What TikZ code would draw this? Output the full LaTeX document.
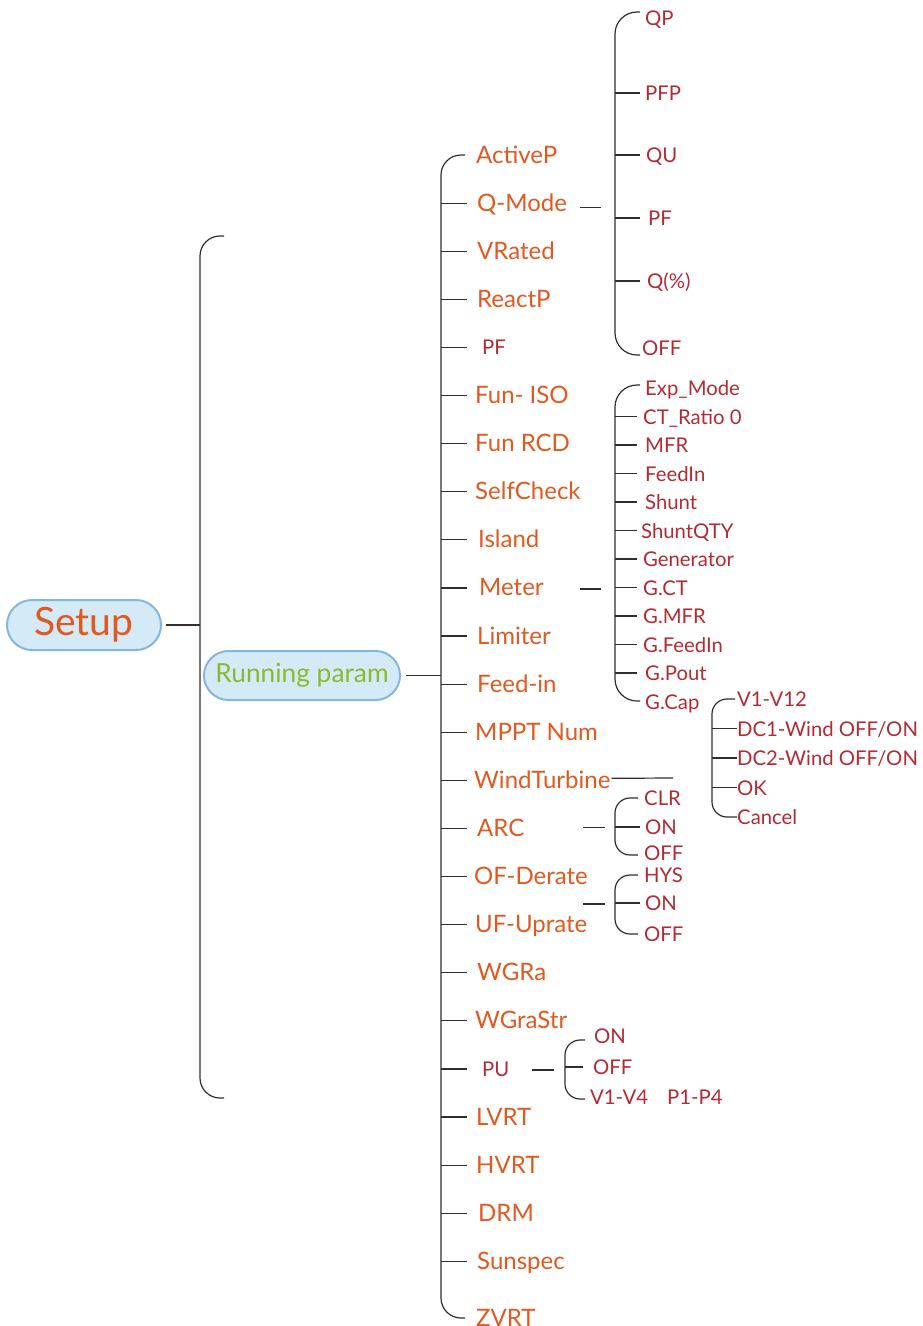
\documentclass[tikz,border=0pt]{standalone}
\usepackage{fontspec}
\setmainfont{Lato}
\definecolor{orng}{HTML}{E2581F}
\definecolor{rd}{HTML}{B32A33}
\definecolor{grn}{HTML}{8BB92D}
\definecolor{boxfill}{HTML}{D4EAF7}
\definecolor{boxline}{HTML}{84B7DF}
\definecolor{ln}{HTML}{332C2C}
\begin{document}
\begin{tikzpicture}[x=1pt,y=-1pt,
  conn/.style={draw=ln, line width=1.2pt},
  mainitem/.style={anchor=west, inner sep=0pt, text height=16pt, text depth=0pt, text=orng, font=\fontsize{24}{24}\selectfont},
  subitem/.style={anchor=west, inner sep=0pt, text height=15pt, text depth=0pt, text=rd, font=\fontsize{20.3}{20.3}\selectfont},
  pill/.style={draw=boxline, fill=boxfill, line width=2pt, inner sep=0pt}
]
\useasboundingbox (0,0) rectangle (923,1326);

% root nodes
\node[pill, minimum width=154pt, minimum height=50pt, rounded corners=25pt,
      text=orng, font=\fontsize{39}{39}\selectfont] (setup) at (84,625) {Setup};
\node[pill, minimum width=196pt, minimum height=49pt, rounded corners=24.5pt,
      text=grn, font=\fontsize{26.3}{26.3}\selectfont] (run) at (302,675.5) {Running param};

\coordinate (sb) at (200,0);
\coordinate (spine) at (441,0);

\draw[conn] ([xshift=4pt]setup.east) -- (setup.east -| sb);
\draw[conn, rounded corners=20pt] (224,236) -- (200,236) -- (200,1098) -- (224,1098);
\draw[conn] ([xshift=5pt]run.east) -- (run.east -| spine);

% main items
\foreach \i/\t/\xx/\st in {0/ActiveP/476/mainitem, 1/Q-Mode/477/mainitem, 2/VRated/477/mainitem,
  3/ReactP/477/mainitem, 4/PF/482/subitem, 5/{Fun- ISO}/475/mainitem, 6/{Fun RCD}/475/mainitem,
  7/SelfCheck/475/mainitem, 8/Island/478/mainitem, 9/Meter/479/mainitem, 10/Limiter/477/mainitem,
  11/Feed-in/477/mainitem, 12/{MPPT Num}/475/mainitem, 13/WindTurbine/474/mainitem,
  14/ARC/477/mainitem, 15/OF-Derate/474/mainitem, 16/UF-Uprate/475/mainitem,
  17/WGRa/477/mainitem, 18/WGraStr/475/mainitem, 19/PU/482/subitem, 20/LVRT/476/mainitem,
  21/HVRT/476/mainitem, 22/DRM/478/mainitem, 23/Sunspec/477/mainitem}
  \node[\st] (m\i) at (\xx,155+48.1*\i) {\t};
\node[mainitem] (m24) at (476,1318) {ZVRT};

\draw[conn, rounded corners=20pt] (465,155) -- (441,155) -- (441,1318) -- (465,1318);
\foreach \i in {1,...,23}
  \draw[conn] (spine |- m\i.west) -- ++(26,0);

% Q-Mode branch
\foreach \n/\t/\xx/\yy in {q0/QP/645/18, q1/PFP/645/93, q2/QU/646/155, q3/PF/648/218, q4/Q(\%)/647/281, q5/OFF/642/348}
  \node[subitem] (\n) at (\xx,\yy) {\t};
\draw[conn] (m1.west) ++(103,4) -- ++(21,0);
\draw[conn, rounded corners=22pt] (640,12) -- (615,12) -- (615,355) -- (640,355);
\foreach \n in {q1,q2,q3,q4}
  \draw[conn] (615,0 |- \n.west) -- ++(25,0);

% Meter branch
\foreach \k/\t/\xx in {0/Exp\_Mode/645, 1/CT\_Ratio 0/643, 2/MFR/645, 3/FeedIn/645, 4/Shunt/645,
  5/ShuntQTY/641, 6/Generator/643, 7/G.CT/643, 8/G.MFR/643, 9/G.FeedIn/643, 10/G.Pout/645, 11/G.Cap/645}
  \node[subitem] (e\k) at (\xx,388+28.5*\k) {\t};
\draw[conn] (m9.west) ++(101,1) -- ++(21,0);
\draw[conn, rounded corners=22pt] (640,385) -- (615,385) -- (615,701) -- (640,701);
\foreach \k in {1,...,10}
  \draw[conn] (615,0 |- e\k.west) -- ++(22,0);

% G.Cap branch
\foreach \k/\t in {0/V1-V12, 1/{DC1-Wind OFF/ON}, 2/{DC2-Wind OFF/ON}, 3/OK, 4/Cancel}
  \node[subitem] (g\k) at (737,699+29.5*\k) {\t};
\draw[conn, rounded corners=15pt] (735,699) -- (712,699) -- (712,817) -- (737,817);
\foreach \k in {1,2,3}
  \draw[conn] (712,0 |- g\k.west) -- (g\k.west);

% WindTurbine line
\draw[conn] (m13.east) ++(1,-2) -- (673,778);

% ARC branch
\foreach \n/\t/\xx/\yy in {a0/CLR/644/798, a1/ON/645/827, a2/OFF/644/853}
  \node[subitem] (\n) at (\xx,\yy) {\t};
\draw[conn] (583,827.5) -- (605,827.5);
\draw[conn, rounded corners=15pt] (638,798) -- (615,798) -- (615,855) -- (638,855);
\draw[conn] (615,0 |- a1.west) -- ++(25,0);

% OF-Derate / UF-Uprate branch
\foreach \n/\t/\xx/\yy in {h0/HYS/644/875, h1/ON/645/903, h2/OFF/644/934}
  \node[subitem] (\n) at (\xx,\yy) {\t};
\draw[conn] (583,904) -- (605,904);
\draw[conn, rounded corners=15pt] (638,875) -- (615,875) -- (615,934) -- (638,934);
\draw[conn] (615,0 |- h1.west) -- ++(25,0);

% PU branch
\node[subitem] (p0) at (594,1036) {ON};
\node[subitem] (p1) at (593,1067) {OFF};
\node[subitem] (p2) at (590,1097) {V1-V4\hspace{19pt}P1-P4};
\draw[conn] (m19.west) ++(50,1) -- ++(22,0);
\draw[conn, rounded corners=15pt] (585,1040) -- (565,1040) -- (565,1099) -- (585,1099);
\draw[conn] (565,0 |- p1.west) -- ++(18,0);
\end{tikzpicture}
\end{document}
